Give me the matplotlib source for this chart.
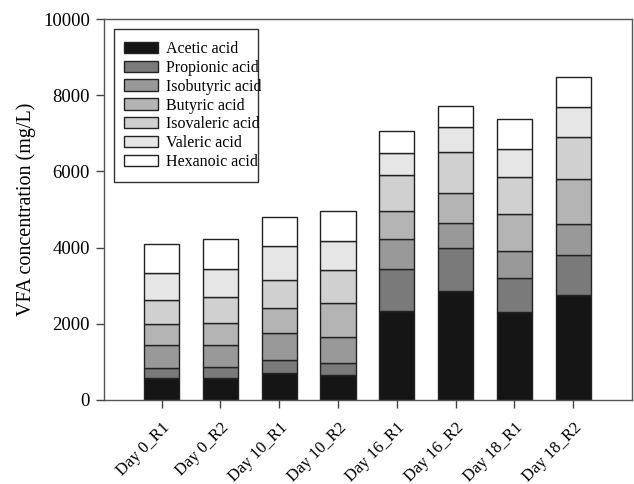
import matplotlib
matplotlib.use("Agg")
import matplotlib.pyplot as plt
from matplotlib.patches import Rectangle
import numpy as np

categories = ["Day 0_R1", "Day 0_R2", "Day 10_R1", "Day 10_R2",
              "Day 16_R1", "Day 16_R2", "Day 18_R1", "Day 18_R2"]
acetic = [570, 570, 700, 656, 2345, 2870, 2319, 2765]
propionic = [278, 288, 358, 324, 1085, 1112, 875, 1050]
isobutyric = [604, 577, 701, 665, 796, 673, 717, 814]
butyric = [543, 586, 648, 909, 735, 779, 972, 1181]
isovaleric = [622, 674, 752, 850, 945, 1067, 971, 1102]
valeric = [717, 744, 875, 770, 578, 675, 735, 771]
hexanoic = [769, 779, 778, 796, 586, 550, 796, 805]

series_names = ["Acetic acid", "Propionic acid", "Isobutyric acid", "Butyric acid",
                "Isovaleric acid", "Valeric acid", "Hexanoic acid"]
series = [acetic, propionic, isobutyric, butyric, isovaleric, valeric, hexanoic]
colors = ["#151515", "#7a7a7a", "#999999", "#b4b4b4", "#d0d0d0", "#e6e6e6", "#ffffff"]
yticks = [0, 2000, 4000, 6000, 8000, 10000]

plt.rcParams['font.family'] = ['Liberation Serif', 'DejaVu Serif']

fig = plt.figure(figsize=(6.34, 4.84), dpi=100)
ax = fig.add_axes([0.164, 0.1736, 0.833, 0.7871])

x = np.arange(len(categories))
bottom = np.zeros(len(categories))
for name, vals, col in zip(series_names, series, colors):
    ax.bar(x, vals, width=0.6, bottom=bottom, color=col, edgecolor="#222222",
           linewidth=1.0, label=name)
    bottom += np.array(vals)

ax.set_xlim(-0.98, 8.0)
ax.set_ylim(0, 10000)
ax.set_yticks(yticks)
ax.set_yticklabels([str(t) for t in yticks], fontsize=13.5)
ax.set_xticks(x)
ax.set_xticklabels(categories, rotation=45, ha='right', rotation_mode='anchor', fontsize=12)
ax.tick_params(direction='out', width=1, color='#444444')
ax.tick_params(axis='y', length=6, pad=4)
ax.tick_params(axis='x', length=5.5, pad=9)
for s in ax.spines.values():
    s.set_color('#555555')
    s.set_linewidth(1.0)
ax.set_ylabel("VFA concentration (mg/L)", fontsize=14.5, labelpad=5)

# legend frame (drawn separately to match the reference box)
frame = Rectangle((0.0189, 0.572), 0.2728, 0.4018, transform=ax.transAxes,
                  facecolor='white', edgecolor='#333333', linewidth=1.0, zorder=4)
ax.add_patch(frame)

leg = ax.legend(loc='upper left', bbox_to_anchor=(0.0379, 0.9425), fontsize=11.5,
                frameon=False, handlelength=2.1, handleheight=0.7, labelspacing=0.18,
                borderpad=0, handletextpad=0.55, borderaxespad=0)
leg.set_zorder(5)

fig.savefig("out.png", dpi=100)
